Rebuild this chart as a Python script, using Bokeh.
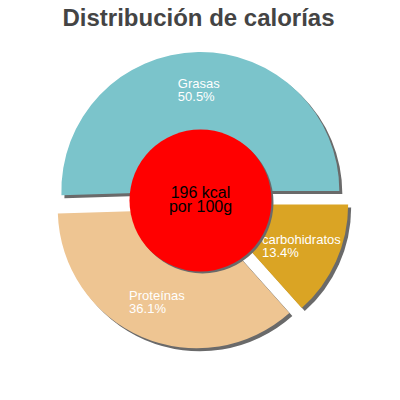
import math
from bokeh.plotting import figure
from bokeh.models import Range1d, ColumnDataSource
from bokeh.core.properties import value
from bokeh.embed import file_html
from bokeh.resources import INLINE

title_text = "Distribución de calorías"
labels = ["Grasas", "Proteínas", "carbohidratos"]
percentages = [50.5, 36.1, 13.4]
colors = ["#7BC4CB", "#EEC592", "#DAA424"]
center_lines = ["196 kcal", "por 100g"]

# geometry (pixel-like data units, y up)
CX, CY = 200.0, 200.0
R = 139.0
EXPLODE = 9.5
LABEL_R = 101.0
SHADOW_DX, SHADOW_DY = 3.0, -3.0
HOLE_R = 71.0

starts, ends, xs, ys, lx, ly, texts = [], [], [], [], [], [], []
acc = 0.0
total = sum(percentages)
for lab, pct in zip(labels, percentages):
    a0 = acc / total * 2 * math.pi
    acc += pct
    a1 = acc / total * 2 * math.pi
    m = (a0 + a1) / 2
    cx = CX + EXPLODE * math.cos(m)
    cy = CY + EXPLODE * math.sin(m)
    starts.append(a0)
    ends.append(a1)
    xs.append(cx)
    ys.append(cy)
    lx.append(cx + LABEL_R * math.cos(m))
    ly.append(cy + LABEL_R * math.sin(m))
    texts.append(f"{lab}\n{pct:.1f}%")

src = ColumnDataSource(dict(x=xs, y=ys, sx=[v + SHADOW_DX for v in xs],
                            sy=[v + SHADOW_DY for v in ys],
                            start=starts, end=ends, color=colors,
                            lx=lx, ly=ly, text=texts))

p = figure(width=392, height=392, x_range=Range1d(0, 392), y_range=Range1d(8, 400),
           output_backend="svg", toolbar_location=None, min_border=0)
p.axis.visible = False
p.grid.visible = False
p.outline_line_color = None
p.background_fill_color = "white"
p.border_fill_color = "white"

# shadows
p.wedge(x="sx", y="sy", radius=R, start_angle="start", end_angle="end",
        direction="anticlock", source=src, fill_color="#6a6a6a", line_color=None)
# slices
p.wedge(x="x", y="y", radius=R, start_angle="start", end_angle="end",
        direction="anticlock", source=src, fill_color="color", line_color=None)

# labels
p.text(x="lx", y="ly", text="text", source=src, anchor="center", text_align="left",
       text_font=value("Liberation Sans"), text_font_size="13px", text_color="white",
       text_line_height=0.85)

# center disc
p.circle(x=[CX + 2], y=[CY - 2], radius=HOLE_R, fill_color="#6a6a6a", line_color=None)
p.circle(x=[CX], y=[CY], radius=HOLE_R, fill_color="#FF0000", line_color=None)
p.text(x=[CX], y=[CY + 1], text=["\n".join(center_lines)], anchor="center",
       text_align="center", text_font=value("Liberation Sans"), text_font_size="16px",
       text_color="black", text_line_height=0.88)

# title
p.text(x=[198], y=[383], text=[title_text], text_align="center",
       text_baseline="alphabetic", text_font=value("Liberation Sans"),
       text_font_size="24px", text_font_style="bold", text_color="#444444")

open("out.html", "w").write(file_html(p, INLINE))
